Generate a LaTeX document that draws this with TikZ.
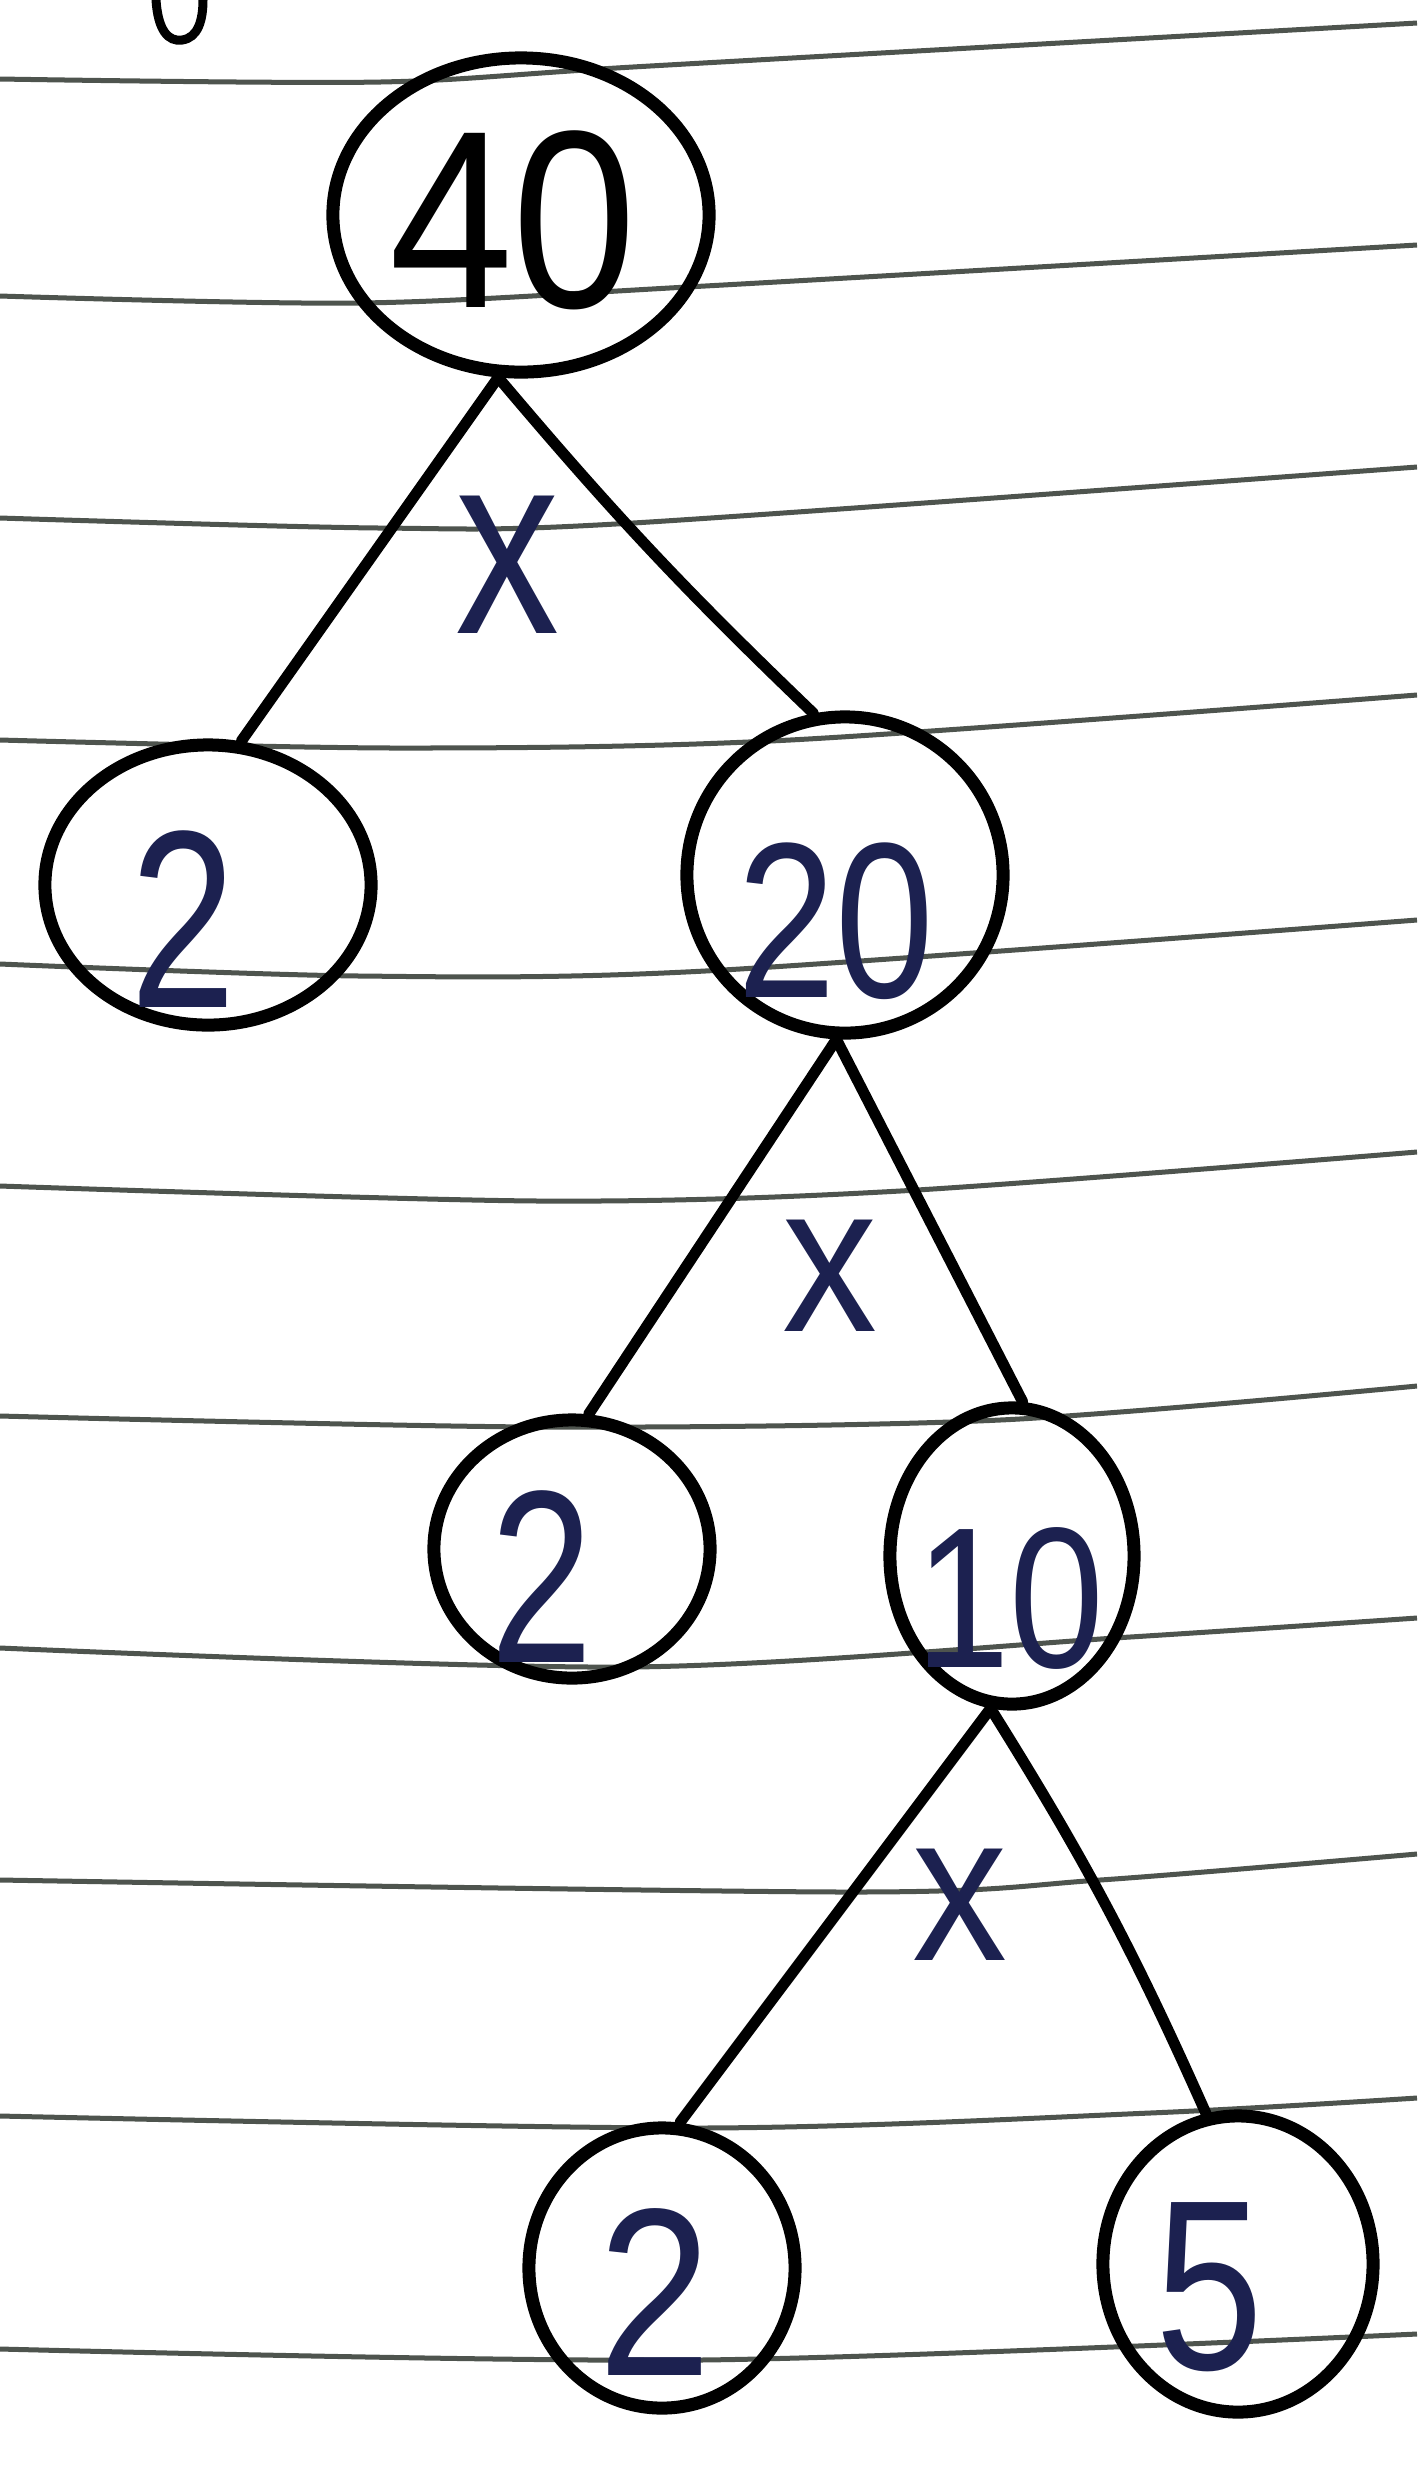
\documentclass[tikz,border=0pt]{standalone}
\usepackage{fontspec}
\setmainfont{Liberation Sans}
\usetikzlibrary{shapes.geometric}
\definecolor{ink}{HTML}{1C2150}
\definecolor{rulecol}{HTML}{4E544E}
\begin{document}
\begin{tikzpicture}[x=0.01cm,y=-0.01cm,
  ring/.style={ellipse, draw=black, line width=1.3mm, inner sep=0pt},
  digit/.style={text=ink, inner sep=0pt},
  op/.style={text=ink, inner sep=0pt},
  branch/.style={draw=black, line width=1.1mm, line cap=round},
  paper/.style={draw=rulecol, line width=0.5mm}]
\useasboundingbox (0,0) rectangle (1417,2474);
\fill[white] (0,0) rectangle (1417,2474);
% ruled paper lines
\draw[paper] plot[smooth] coordinates {(0,79) (380,82) (650,66) (1417,23)};
\draw[paper] plot[smooth] coordinates {(0,296) (360,303) (705,286) (1417,245)};
\draw[paper] plot[smooth] coordinates {(0,518) (380,528) (633,523) (1417,467)};
\draw[paper] plot[smooth] coordinates {(0,740) (400,748) (790,740) (1417,695)};
\draw[paper] plot[smooth] coordinates {(0,964) (360,976) (705,971) (1417,920)};
\draw[paper] plot[smooth] coordinates {(0,1186) (540,1201) (900,1191) (1417,1152)};
\draw[paper] plot[smooth] coordinates {(0,1416) (540,1427) (1000,1420) (1417,1386)};
\draw[paper] plot[smooth] coordinates {(0,1648) (630,1667) (1130,1637) (1417,1618)};
\draw[paper] plot[smooth] coordinates {(0,1880) (850,1892) (1100,1880) (1417,1854)};
\draw[paper] plot[smooth] coordinates {(0,2116) (700,2128) (1150,2113) (1417,2098)};
\draw[paper] plot[smooth] coordinates {(0,2349) (700,2360) (1417,2334)};
% fragment of a letter at the top edge
\draw[black, line width=0.9mm, line cap=round] (156,0) .. controls (158,30) and (168,42) .. (182,40) .. controls (198,38) and (203,20) .. (203,0);
% circles
\node[ring, minimum width=3.76cm, minimum height=3.14cm] (n40) at (521,215) {};
\node[ring, minimum width=3.26cm, minimum height=2.80cm] (n2a) at (208,885) {};
\node[ring, minimum width=3.16cm, minimum height=3.16cm] (n20) at (845,875) {};
\node[ring, minimum width=2.76cm, minimum height=2.58cm] (n2b) at (572,1549) {};
\node[ring, minimum width=2.44cm, minimum height=2.96cm] (n10) at (1012,1556) {};
\node[ring, minimum width=2.66cm, minimum height=2.80cm] (n2c) at (662,2268) {};
\node[ring, minimum width=2.70cm, minimum height=2.96cm] (n5) at (1238,2264) {};
% numbers
\node[digit, text=black, font=\fontsize{72}{72}\selectfont] (t40) at (513,220) {\scalebox{0.88}[1]{40}};
\node[digit, font=\fontsize{72}{72}\selectfont] (t2a) at (183,919) {\scalebox{0.75}[1]{2}};
\node[digit, font=\fontsize{63}{63}\selectfont] (t20) at (836,921) {\scalebox{0.8}[1]{20}};
\node[digit, font=\fontsize{70}{70}\selectfont] (t2b) at (542,1577) {\scalebox{0.75}[1]{2}};
\node[digit, font=\fontsize{57}{57}\selectfont] (t10) at (1010,1598) {\scalebox{0.85}[1]{10}};
\node[digit, font=\fontsize{68}{68}\selectfont] (t2c) at (655,2292) {\scalebox{0.85}[1]{2}};
\node[digit, font=\fontsize{69}{69}\selectfont] (t5) at (1209,2287) {\scalebox{0.8}[1]{5}};
% multiplication signs
\node[op, font=\fontsize{74}{74}\selectfont] (x1) at (508,565) {\scalebox{0.8}[1]{x}};
\node[op, font=\fontsize{60}{60}\selectfont] (x2) at (830,1276) {\scalebox{0.9}[1]{x}};
\node[op, font=\fontsize{60}{60}\selectfont] (x3) at (960,1905) {\scalebox{0.9}[1]{x}};
% branches
\draw[branch] (n40.-98) -- (n2a.77);
\draw[branch] (n40.-98) to[bend right=3] (n20.101);
\draw[branch] (n20.-93) -- (n2b.83);
\draw[branch] (n20.-93) -- (n10.86);
\draw[branch] (n10.-98) -- (n2c.83);
\draw[branch] (n10.-98) to[bend left=4] (n5.102);
\end{tikzpicture}
\end{document}
